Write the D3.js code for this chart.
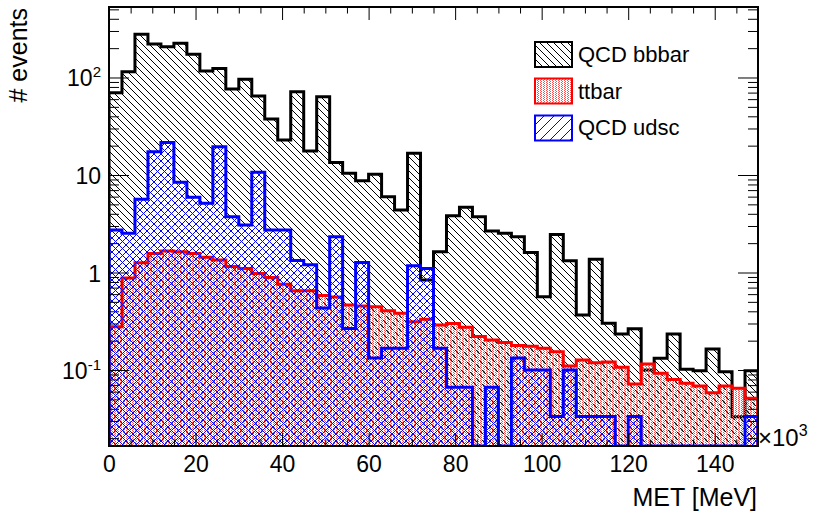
<!DOCTYPE html>
<html>
<head>
<meta charset="utf-8">
<script src="https://cdn.jsdelivr.net/npm/d3@7"></script>
<style>
  body { margin: 0; background: #fff; }
  svg { display: block; }
  text { font-family: "Liberation Sans", Arial, Helvetica, sans-serif; fill: #000; }
</style>
</head>
<body>
<svg id="chart" width="815" height="522"></svg>
<script>
// Histogram binning: 50 bins of MET (in units of 10^3 MeV)
const xMin = 0, xMax = 150, nBins = 50;

// Bin contents (events per bin)
const qcdBbbar = [69.8, 114.6, 277, 221, 207, 224, 173, 116.6, 124, 76.2,
                  95.8, 64.6, 37.5, 22.9, 71.5, 17.6, 63.6, 13.4, 10.4, 8.74,
                  10.2, 6.0, 4.38, 16.7, 0.84, 1.63, 3.83, 4.66, 3.73, 2.67,
                  2.52, 2.33, 1.60, 0.565, 2.46, 1.32, 0.367, 1.37, 0.301, 0.234,
                  0.265, 0.100, 0.132, 0.234, 0.1016, 0.098, 0.164, 0.096, 0.0332, 0.098];
const ttbar = [0.278, 0.879, 1.26, 1.57, 1.66, 1.63, 1.57, 1.43, 1.34, 1.15,
               1.10, 0.975, 0.89, 0.757, 0.65, 0.65, 0.58, 0.56, 0.464, 0.453,
               0.446, 0.406, 0.381, 0.313, 0.331, 0.29, 0.30, 0.274, 0.22, 0.203,
               0.192, 0.178, 0.175, 0.167, 0.154, 0.11, 0.127, 0.119, 0.121, 0.107,
               0.0718, 0.115, 0.0925, 0.080, 0.073, 0.0685, 0.0585, 0.0685, 0.0649, 0.0513];
const qcdUdsc = [2.73, 2.53, 5.63, 17.3, 21.5, 8.41, 5.9, 5.13, 19.5, 3.73,
                 3.07, 10.7, 2.73, 2.73, 1.33, 1.2, 0.433, 2.33, 0.267, 1.27,
                 0.133, 0.167, 0.167, 1.17, 1.1, 0.167, 0.0667, 0.0667, 0, 0.0667,
                 0, 0.133, 0.1, 0.1, 0.0333, 0.1, 0.0333, 0.0333, 0.0333, 0,
                 0.0333, 0, 0, 0, 0, 0, 0, 0, 0, 0.0333];

const seriesNames = ["QCD bbbar", "ttbar", "QCD udsc"];
const seriesColors = ["#000000", "#ff0000", "#0000ff"];

// Axis ticks and labels
const xTickValues = [0, 20, 40, 60, 80, 100, 120, 140];
const yTickValues = [0.1, 1, 10, 100];
const yTickLabels = [["10", "-1"], ["1", ""], ["10", ""], ["10", "2"]];
const yDomain = [0.01662, 528.5];

// Frame geometry
const fL = 109, fR = 758, fT = 7, fB = 446;

const svg = d3.select("#chart");
const defs = svg.append("defs");

const x = d3.scaleLinear().domain([xMin, xMax]).range([fL, fR]);
const y = d3.scaleLog().domain(yDomain).range([fB, fT]);
const binW = (xMax - xMin) / nBins;

// Pixel-based fill patterns
function pixelPattern(id, color, w, h, pixels) {
  const pat = defs.append("pattern").attr("id", id)
    .attr("patternUnits", "userSpaceOnUse").attr("width", w).attr("height", h);
  pixels.forEach(([px, py]) => pat.append("rect")
    .attr("x", px).attr("y", py).attr("width", 1).attr("height", 1)
    .attr("fill", color).attr("shape-rendering", "crispEdges"));
}
const P = 7;
const back = d3.range(P).map(i => [i, i]);          // "\\" diagonal
const fwd = d3.range(P).map(i => [P - 1 - i, i]);   // "/" diagonal
pixelPattern("patBb", "#000", P, P, back);
pixelPattern("patUd", "#0000ff", P, P, back.concat(fwd));
pixelPattern("patUdKey", "#0000ff", 10, 10, d3.range(10).map(i => [9 - i, i]));
pixelPattern("patTt", "#ff5050", 3, 2, [[0, 0], [1, 1]]);
const patIds = ["patBb", "patTt", "patUd"];
const keyPatIds = ["patBb", "patTt", "patUdKey"];

defs.append("clipPath").attr("id", "frameClip")
  .append("rect").attr("x", fL).attr("y", fT).attr("width", fR - fL).attr("height", fB - fT);

function yv(v) { return v > yDomain[0] ? y(v) : fB; }
function stepPath(vals) {
  let d = `M${x(xMin)},${fB}`;
  vals.forEach((v, i) => {
    const lo = xMin + i * binW, hi = lo + binW, yy = yv(v);
    d += `L${x(lo)},${yy}L${x(hi)},${yy}`;
  });
  d += `L${x(xMax)},${fB}`;
  return d;
}

const plot = svg.append("g").attr("clip-path", "url(#frameClip)");
[qcdBbbar, ttbar, qcdUdsc].forEach((vals, k) => {
  const d = stepPath(vals);
  plot.append("path").attr("d", d + "Z").attr("fill", `url(#${patIds[k]})`).attr("stroke", "none");
  plot.append("path").attr("d", d).attr("fill", "none")
    .attr("stroke", seriesColors[k]).attr("stroke-width", 3).attr("stroke-linejoin", "miter");
});

// Minor tick positions
const xMinor = d3.range(5, xMax, 5).filter(v => v % 20 !== 0);
const yMinor = [];
for (let e = -2; e <= 2; e++) for (let m = 2; m <= 9; m++) {
  const v = m * Math.pow(10, e);
  if (v > yDomain[0] && v < yDomain[1]) yMinor.push(v);
}

function styleAxis(g) {
  g.select(".domain").remove();
  g.attr("font-family", null).attr("font-size", null);
  g.selectAll("line").attr("stroke", "#000");
}

// Bottom axis with labels
svg.append("g").attr("transform", `translate(0,${fB})`)
  .call(d3.axisBottom(x).tickValues(xTickValues).tickSizeInner(-13).tickSizeOuter(0)
    .tickPadding(10).tickFormat(d3.format("d")))
  .call(styleAxis)
  .selectAll("text").attr("font-size", 23).attr("fill", "#000");
svg.append("g").attr("transform", `translate(0,${fB})`)
  .call(d3.axisBottom(x).tickValues(xMinor).tickSizeInner(-6.5).tickSizeOuter(0).tickFormat(""))
  .call(styleAxis);
// Top axis (ticks only)
svg.append("g").attr("transform", `translate(0,${fT})`)
  .call(d3.axisTop(x).tickValues(xTickValues).tickSizeInner(-13).tickSizeOuter(0).tickFormat(""))
  .call(styleAxis);
svg.append("g").attr("transform", `translate(0,${fT})`)
  .call(d3.axisTop(x).tickValues(xMinor).tickSizeInner(-6.5).tickSizeOuter(0).tickFormat(""))
  .call(styleAxis);
// Left and right axes (ticks)
svg.append("g").attr("transform", `translate(${fL},0)`)
  .call(d3.axisLeft(y).tickValues(yTickValues).tickSizeInner(-20).tickSizeOuter(0).tickFormat(""))
  .call(styleAxis);
svg.append("g").attr("transform", `translate(${fL},0)`)
  .call(d3.axisLeft(y).tickValues(yMinor).tickSizeInner(-10).tickSizeOuter(0).tickFormat(""))
  .call(styleAxis);
svg.append("g").attr("transform", `translate(${fR},0)`)
  .call(d3.axisRight(y).tickValues(yTickValues).tickSizeInner(-20).tickSizeOuter(0).tickFormat(""))
  .call(styleAxis);
svg.append("g").attr("transform", `translate(${fR},0)`)
  .call(d3.axisRight(y).tickValues(yMinor).tickSizeInner(-10).tickSizeOuter(0).tickFormat(""))
  .call(styleAxis);

// Y tick labels with exponents
yTickValues.forEach((v, i) => {
  const [base, sup] = yTickLabels[i];
  const t = svg.append("text").attr("x", 101).attr("y", y(v) + 9).attr("text-anchor", "end")
    .attr("font-size", 23);
  t.append("tspan").text(base);
  if (sup) t.append("tspan").attr("dy", -9).attr("font-size", 15).text(sup);
});

// Frame
svg.append("rect").attr("x", fL).attr("y", fT).attr("width", fR - fL).attr("height", fB - fT)
  .attr("fill", "none").attr("stroke", "#000").attr("stroke-width", 2);

// Axis titles and exponent marker
const xe = svg.append("text").attr("x", 758).attr("y", 446).attr("font-size", 24);
xe.append("tspan").text("\u00d710");
xe.append("tspan").attr("dy", -10).attr("font-size", 16).text("3");
svg.append("text").attr("x", 757).attr("y", 506).attr("text-anchor", "end")
  .attr("font-size", 25).text("MET [MeV]");
svg.append("text").attr("transform", "translate(27,8) rotate(-90)")
  .attr("text-anchor", "end").attr("font-size", 25).text("# events");

// Legend
const legY = [42, 78.5, 115.5];
const legTextY = [62, 98.5, 135];
seriesNames.forEach((name, k) => {
  svg.append("rect").attr("x", 535).attr("y", legY[k]).attr("width", 37).attr("height", 25)
    .attr("fill", `url(#${keyPatIds[k]})`).attr("stroke", seriesColors[k]).attr("stroke-width", 2);
  svg.append("text").attr("x", 578).attr("y", legTextY[k]).attr("font-size", 22).text(name);
});
</script>
</body>
</html>
